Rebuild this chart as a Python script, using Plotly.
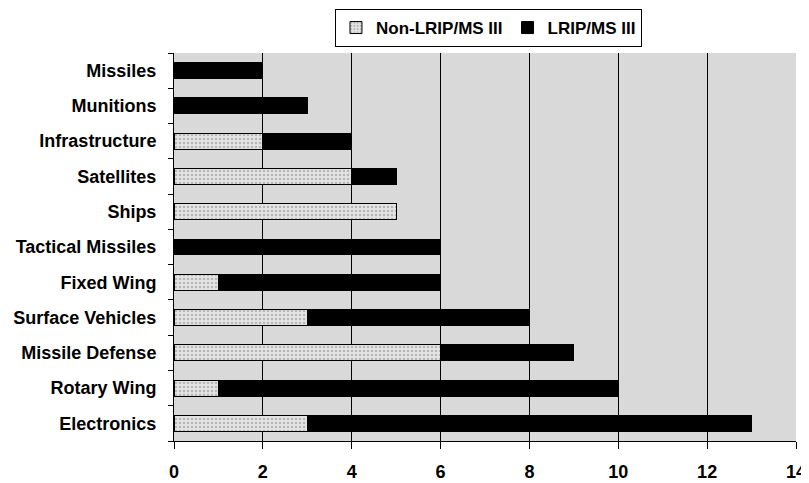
import plotly.graph_objects as go

categories = ["Missiles", "Munitions", "Infrastructure", "Satellites", "Ships",
              "Tactical Missiles", "Fixed Wing", "Surface Vehicles",
              "Missile Defense", "Rotary Wing", "Electronics"]
non_lrip = [0, 0, 2, 4, 5, 0, 1, 3, 6, 1, 3]
lrip = [2, 3, 2, 1, 0, 6, 5, 5, 3, 9, 10]
x_ticks = [0, 2, 4, 6, 8, 10, 12, 14]

fig = go.Figure()
fig.add_trace(go.Bar(
    y=categories, x=non_lrip, name="Non-LRIP/MS III", orientation="h",
    marker=dict(color="#e4e4e4", line=dict(color="black", width=1),
                pattern=dict(shape=".", fgcolor="#888888", bgcolor="#e4e4e4", size=4, solidity=0.3)),
))
fig.add_trace(go.Bar(
    y=categories, x=lrip, name="LRIP/MS III", orientation="h",
    marker=dict(color="black", line=dict(color="black", width=1)),
))

fig.update_layout(
    barmode="stack",
    bargap=0.55,
    width=801, height=475,
    margin=dict(l=166, r=13, t=45, b=42, autoexpand=False),
    paper_bgcolor="white",
    plot_bgcolor="#d9d9d9",
    font=dict(family="Liberation Sans, Arial", size=18, color="black", weight="bold"),
    legend=dict(orientation="h", x=0.5056, xanchor="center", y=1.1134, yanchor="top",
                bordercolor="black", borderwidth=1, bgcolor="white",
                font=dict(size=17, weight="bold"), traceorder="normal",
                itemwidth=30, tracegroupgap=0),
    showlegend=True,
)
fig.update_xaxes(range=[0, 14], tickvals=x_ticks, showgrid=True, gridcolor="black",
                 gridwidth=1, ticks="outside", ticklen=7, tickcolor="black",
                 showline=True, linecolor="black", linewidth=1, zeroline=False,
                 tickfont=dict(size=18, weight="bold"), ticklabelstandoff=7,
                 automargin=False)
fig.update_yaxes(categoryorder="array", categoryarray=categories[::-1],
                 autorange=True, showgrid=False, ticks="outside", tickson="boundaries",
                 ticklen=5, tickcolor="black", showline=True, linecolor="black",
                 linewidth=1, ticklabelstandoff=13, automargin=False,
                 tickfont=dict(size=18, weight="bold"))

fig.write_html("out.html")
